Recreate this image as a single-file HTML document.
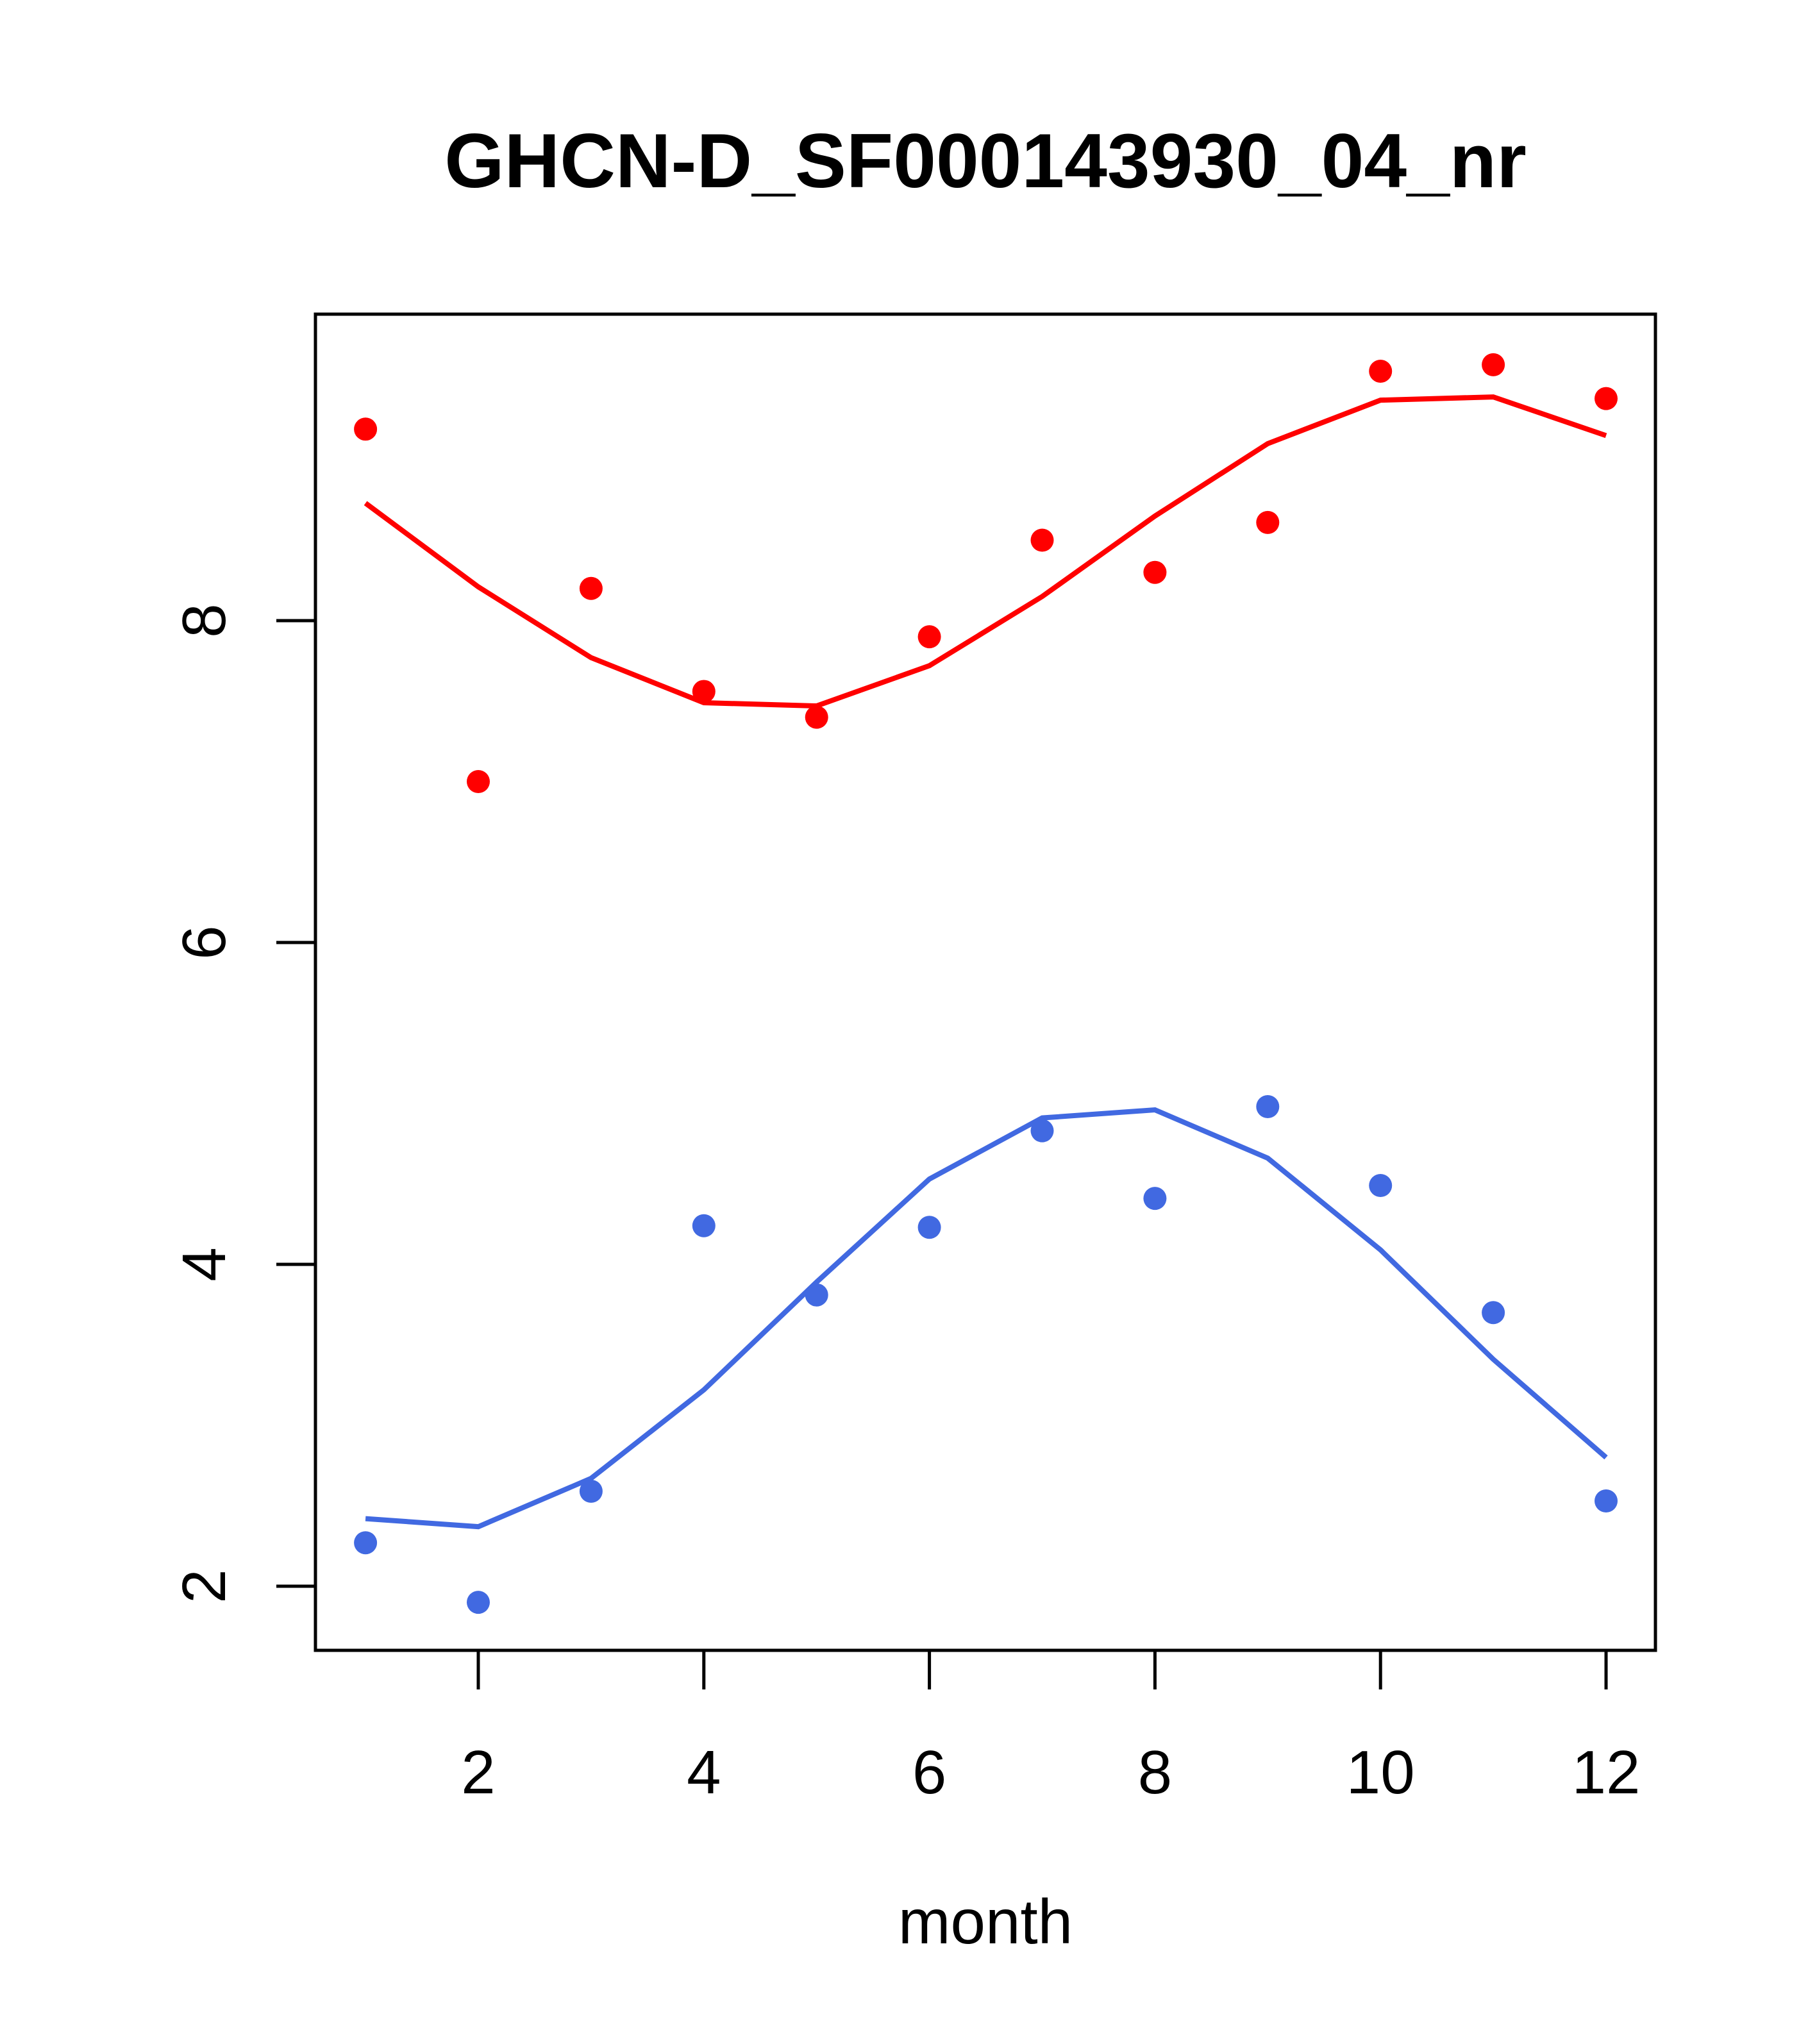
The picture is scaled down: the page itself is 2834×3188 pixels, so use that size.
<!DOCTYPE html>
<html><head><meta charset="utf-8"><style>html,body{margin:0;padding:0;background:#fff}svg{display:block}</style></head>
<body>
<svg id="chart" width="2834" height="3188" viewBox="0 0 2834 3188" xmlns="http://www.w3.org/2000/svg" font-family="Liberation Sans, sans-serif">
<rect width="2834" height="3188" fill="#fff"/>
<text x="1537" y="292" text-anchor="middle" font-size="120" font-weight="bold">GHCN-D_SF000143930_04_nr</text>
<rect x="492" y="490" width="2090" height="2084" fill="none" stroke="#000" stroke-width="5"/>
<g id="axes"></g>
<g id="series"></g>
<text x="1537" y="3031" text-anchor="middle" font-size="98">month</text>
</svg>
<script>
const months = [1,2,3,4,5,6,7,8,9,10,11,12];
const redPoints = [9.19,7.00,8.20,7.56,7.40,7.90,8.50,8.30,8.61,9.55,9.59,9.38];
const redLine = [8.73,8.21,7.77,7.49,7.47,7.72,8.15,8.65,9.10,9.37,9.39,9.15];
const bluePoints = [2.27,1.90,2.59,4.24,3.81,4.23,4.83,4.41,4.98,4.49,3.70,2.53];
const blueLine = [2.42,2.37,2.67,3.22,3.89,4.53,4.91,4.96,4.66,4.09,3.41,2.80];
const xTicks = [2,4,6,8,10,12];
const yTicks = [2,4,6,8];

const NS = "http://www.w3.org/2000/svg";
function x(m){ return 746 + (m-2)*175.9; }
function y(v){ return 2474 - (v-2)*251; }
function mk(tag, attrs, parent){ const e=document.createElementNS(NS,tag); for(const k in attrs) e.setAttribute(k,attrs[k]); parent.appendChild(e); return e; }
const axes=document.getElementById('axes'), series=document.getElementById('series');

let l=mk('line',{x1:x(xTicks[0]),x2:x(xTicks[xTicks.length-1]),y1:2574,y2:2574,stroke:'#000','stroke-width':5},axes);


xTicks.forEach(t=>{
  const tk=mk('line',{x1:x(t),x2:x(t),y1:2574,y2:2635,stroke:'#000','stroke-width':5},axes);
  
  
  const tx=mk('text',{x:x(t),y:2797,'text-anchor':'middle','font-size':96},axes);
  tx.textContent=t;
  
  
});
l=mk('line',{x1:492,x2:492,y1:y(yTicks[0]),y2:y(yTicks[yTicks.length-1]),stroke:'#000','stroke-width':5},axes);


yTicks.forEach(t=>{
  const tk=mk('line',{x1:431,x2:492,y1:y(t),y2:y(t),stroke:'#000','stroke-width':5},axes);
  
  
  const tx=mk('text',{x:0,y:0,'text-anchor':'middle','font-size':96,transform:`translate(351,${y(t)}) rotate(-90)`},axes);
  tx.textContent=t;
  
  
});

function drawLine(vals,color,name){
  const p=mk('polyline',{points:vals.map((v,i)=>x(months[i])+','+y(v)).join(' '),fill:'none',stroke:color,'stroke-width':8},series);
  
  
}
function drawPts(vals,color,name){
  vals.forEach((v,i)=>{
    const c=mk('circle',{cx:x(months[i]),cy:y(v),r:18,fill:color},series);
    
    
  });
}
drawLine(redLine,'#ff0000','red-smooth-line');
drawPts(redPoints,'#ff0000','red-point');
drawLine(blueLine,'#4169e1','blue-smooth-line');
drawPts(bluePoints,'#4169e1','blue-point');
</script>
</body></html>
